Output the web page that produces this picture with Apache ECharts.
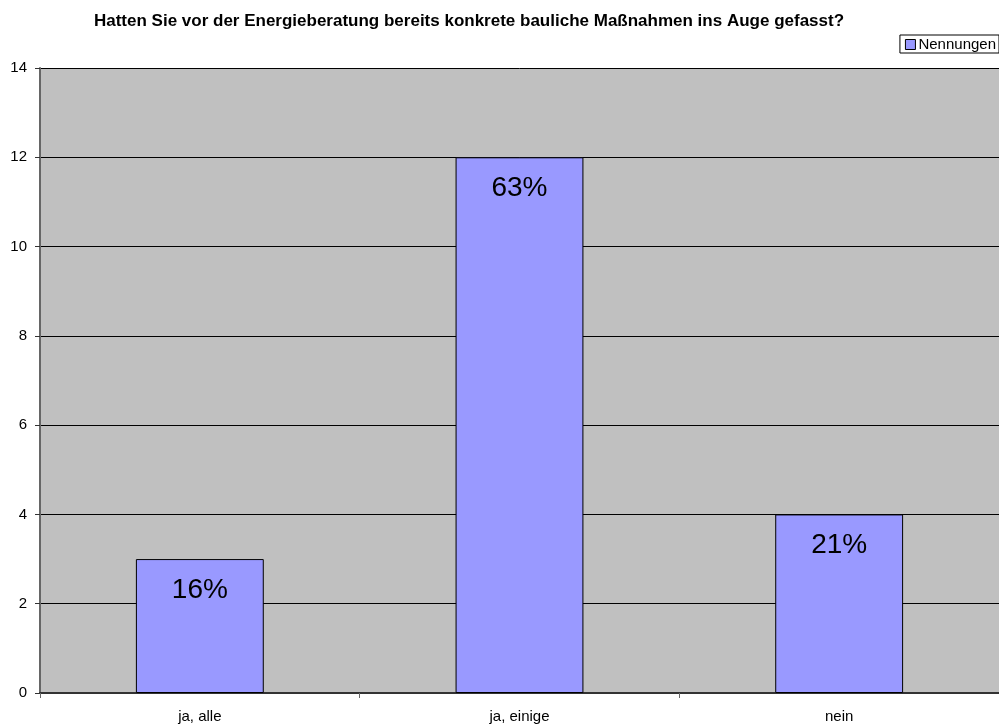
<!DOCTYPE html>
<html>
<head>
<meta charset="utf-8">
<script src="https://cdn.jsdelivr.net/npm/echarts@6/dist/echarts.min.js"></script>
<style>
  html, body { margin: 0; padding: 0; background: #fff; }
  #chart { width: 999px; height: 727px; }
</style>
</head>
<body>
<div id="chart"></div>
<script>
// Survey answers and the number of mentions per answer
const categories = ['ja, alle', 'ja, einige', 'nein'];
const mentions = [3, 12, 4];
const seriesName = 'Nennungen';
const titleText = 'Hatten Sie vor der Energieberatung bereits konkrete bauliche Maßnahmen ins Auge gefasst?';

const total = mentions.reduce((a, b) => a + b, 0);

const chart = echarts.init(document.getElementById('chart'));
chart.setOption({
  backgroundColor: '#ffffff',
  animation: false,
  textStyle: { fontFamily: 'Liberation Sans, Arial, sans-serif' },
  title: {
    text: titleText,
    left: 464,
    textAlign: 'center',
    top: 8,
    textStyle: { fontSize: 17, fontWeight: 'bold', color: '#000' }
  },
  legend: {
    data: [seriesName],
    right: 0,
    top: 35,
    orient: 'vertical',
    backgroundColor: '#ffffff',
    borderColor: '#000',
    borderWidth: 1,
    padding: [2, 3, 1, 5],
    icon: 'rect',
    itemWidth: 10,
    itemHeight: 10,
    itemGap: 4,
    textStyle: { fontSize: 15, color: '#000', padding: [0, 0, 0, -2] },
    itemStyle: { borderColor: '#000', borderWidth: 1 }
  },
  grid: {
    left: 40,
    right: 0,
    top: 68,
    bottom: 34,
    show: true,
    backgroundColor: '#c0c0c0',
    borderWidth: 0
  },
  xAxis: {
    type: 'category',
    data: categories,
    axisLine: { lineStyle: { color: '#333', width: 2 } },
    axisTick: { show: true, length: 5, lineStyle: { color: '#666' } },
    axisLabel: { fontSize: 15, color: '#000', margin: 16 },
    splitLine: { show: false }
  },
  yAxis: {
    type: 'value',
    min: 0,
    max: 14,
    interval: 2,
    axisLine: { show: true, lineStyle: { color: '#666', width: 2 } },
    axisTick: { show: true, length: 5, lineStyle: { color: '#333' } },
    axisLabel: { fontSize: 15, color: '#000', margin: 13 },
    splitLine: { show: true, lineStyle: { color: '#000', width: 1 } }
  },
  series: [{
    name: seriesName,
    type: 'bar',
    data: mentions,
    barWidth: '40%',
    itemStyle: { color: '#9999ff', borderColor: '#000', borderWidth: 1 },
    label: {
      show: true,
      position: 'insideTop',
      distance: 17,
      fontSize: 28,
      color: '#000',
      formatter: p => Math.round(p.value / total * 100) + '%'
    }
  }]
});
</script>
</body>
</html>
